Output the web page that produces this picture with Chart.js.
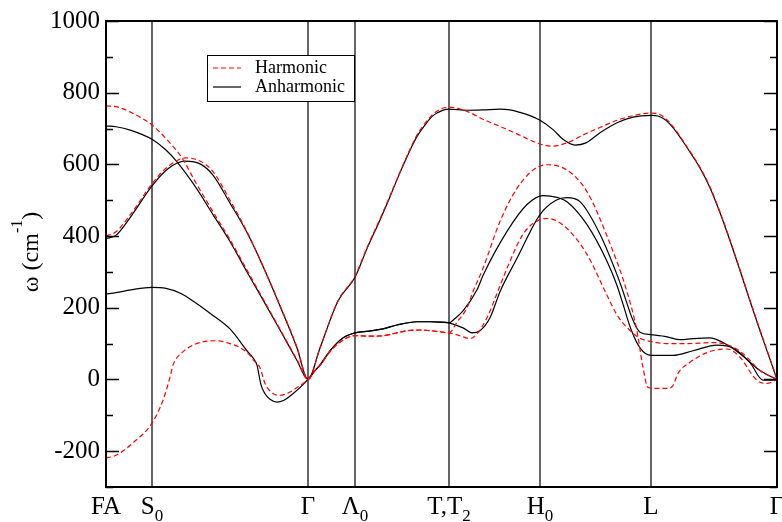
<!DOCTYPE html>
<html>
<head>
<meta charset="utf-8">
<script src="https://cdn.jsdelivr.net/npm/chart.js@4.4.1/dist/chart.umd.min.js"></script>
<style>
  html, body { margin: 0; padding: 0; background: #fff; }
  #wrap { width: 782px; height: 522px; }
</style>
</head>
<body>
<div id="wrap"><canvas id="chart1"></canvas></div>
<script>
// path coordinate of the high-symmetry points and their labels (_ = subscript)
const kPos = [0, 46, 202, 249, 343, 434, 545, 671];
const kLabels = ['FA', 'S_0', 'Γ', 'Λ_0', 'T,T_2', 'H_0', 'L', 'Γ'];
const yTicks = [-200, 0, 200, 400, 600, 800, 1000];
const yMinor = [-300, -100, 100, 300, 500, 700, 900];

// harmonic bands
const harm1 = [[0,763],[10,761],[25,745],[46,710],[60,672],[76,618],[90,548],[107,468],[124,390],[141,305],[157,225],[175,135],[191,55],[202,0],
  [214,88],[232,219],[249,288],[261,368],[274,448],[284,512],[294,579],[305,648],[311,682],[320,718],[327,740],[336,756],[343,760],
  [361,748],[377,726],[394,706],[411,685],[434,657],[446,651],[461,660],[477,682],[494,703],[511,723],[527,736],[545,743],
  [552,741],[560,727],[568,702],[576,670],[585,632],[594,592],[604,537],[614,467],[624,389],[634,306],[644,221],[654,138],[664,58],[671,0]];
const harmLowMid = [[208,22],[214,40],[224,78],[237,110],[249,122],[264,121],[277,122],[289,129],[301,136],[314,138],[324,136],[334,133],[343,130]];
const harm2 = [[0,400],[10,412],[25,462],[46,546],[62,594],[80,618],[95,608],[107,580],[124,500],[141,412],[156,322],[175,200],[191,90],[202,0]]
  .concat(harmLowMid, [[351,160],[361,200],[367,245],[377,310],[394,441],[411,533],[427,584],[441,599],[461,584],[481,524],[501,400],[521,245],
  [531,135],[537,33],[542,-22],[551,-25],[561,-25],[567,-17],[572,17],[584,48],[601,75],[614,84],[621,85],[634,62],[647,10],[654,-8],[661,-11],[671,0]]);
const harm3 = [[0,-218],[7,-215],[14,-205],[27,-177],[46,-122],[57,-58],[64,6],[67,40],[76,75],[94,103],[111,108],[124,100],[134,89],[144,67],
  [147,55],[154,33],[159,-11],[167,-39],[174,-44],[181,-39],[195,-15],[202,0]]
  .concat(harmLowMid, [[354,122],[364,114],[371,127],[381,172],[392,247],[401,310],[417,405],[434,446],[442,449],[461,421],[481,349],
  [501,235],[511,180],[521,145],[534,115],[545,106],[561,100],[581,100],[607,103],[624,94],[637,72],[654,25],[671,0]]);

// anharmonic bands
const anh1 = [[0,707],[10,705],[25,695],[46,670],[60,640],[71,607],[90,535],[107,460],[124,385],[141,300],[157,222],[175,133],[191,53],[202,0],
  [214,88],[232,219],[249,285],[261,365],[274,445],[284,510],[294,577],[305,645],[311,678],[320,714],[327,736],[336,750],[343,754],
  [361,751],[377,752],[394,754],[404,752],[414,745],[424,736],[434,723],[447,697],[457,670],[469,654],[480,660],[494,688],[511,716],[527,732],[545,737],
  [552,735],[560,723],[568,699],[576,668],[585,630],[594,590],[604,535],[614,465],[624,387],[634,304],[644,219],[654,136],[664,56],[671,0]];
const anhLowMid = [[208,22],[214,40],[224,80],[237,116],[249,130],[263,135],[277,141],[291,152],[311,161],[324,161],[334,160],[343,158]];
const anh2 = [[0,393],[10,402],[25,455],[46,540],[62,588],[79,609],[95,600],[107,570],[124,492],[141,410],[156,322],[175,198],[191,88],[202,0]]
  .concat(anhLowMid, [[349,170],[357,191],[371,250],[377,290],[401,413],[421,488],[437,513],[451,508],[461,496],[481,432],[501,330],[511,262],
  [517,210],[525,140],[534,88],[545,67],[567,67],[587,80],[611,96],[627,88],[644,47],[657,-2],[671,-2]]);
const anh3 = [[0,238],[10,242],[25,250],[46,257],[60,254],[75,240],[87,219],[104,185],[124,141],[141,80],[147,60],[151,40],[153,12],[155,-15],
  [159,-40],[164,-55],[171,-63],[178,-58],[186,-42],[195,-20],[202,0]]
  .concat(anhLowMid, [[357,144],[366,130],[374,136],[384,172],[394,245],[411,338],[434,460],[450,500],[461,507],[474,496],[494,405],[514,270],
  [527,165],[534,132],[545,125],[561,119],[574,111],[587,114],[604,116],[617,103],[634,72],[654,25],[671,0]]);

const toXY = arr => arr.map(p => ({ x: p[0], y: p[1] }));

const datasets = [];
[harm1, harm2, harm3].forEach(b => datasets.push({
  label: 'Harmonic', data: toXY(b), borderColor: '#ff0000', borderWidth: 1.2,
  borderDash: [5, 3], pointRadius: 0, cubicInterpolationMode: 'monotone'
}));
[anh1, anh2, anh3].forEach(b => datasets.push({
  label: 'Anharmonic', data: toXY(b), borderColor: '#000', borderWidth: 1.2,
  pointRadius: 0, cubicInterpolationMode: 'monotone'
}));
kPos.slice(1, -1).forEach(k => datasets.push({
  label: 'k', data: [{ x: k, y: -300 }, { x: k, y: 1000 }], borderColor: '#000',
  borderWidth: 1.2, pointRadius: 0
}));

const serif = '"Liberation Serif", "DejaVu Serif", serif';

const decor = {
  id: 'decor',
  afterDatasetsDraw(chart) {
    const { ctx, chartArea: a, scales: { x, y } } = chart;
    ctx.save();
    ctx.strokeStyle = '#000';
    ctx.fillStyle = '#000';

    // legend box
    const lx = a.left + 101, ly = a.top + 34, lw = 147, lh = 46;
    ctx.fillStyle = '#fff';
    ctx.fillRect(lx, ly, lw, lh);
    ctx.lineWidth = 1;
    ctx.strokeRect(lx + 0.5, ly + 0.5, lw, lh);
    ctx.font = '18px ' + serif;
    ctx.textBaseline = 'middle';
    ctx.textAlign = 'left';
    ctx.fillStyle = '#000';
    ctx.lineWidth = 1.2;
    ctx.strokeStyle = '#ff0000';
    ctx.setLineDash([5, 3]);
    ctx.beginPath(); ctx.moveTo(lx + 6, ly + 13); ctx.lineTo(lx + 34, ly + 13); ctx.stroke();
    ctx.setLineDash([]);
    ctx.strokeStyle = '#000';
    ctx.beginPath(); ctx.moveTo(lx + 6, ly + 32); ctx.lineTo(lx + 34, ly + 32); ctx.stroke();
    ctx.fillText('Harmonic', lx + 48, ly + 13);
    ctx.fillText('Anharmonic', lx + 48, ly + 32);

    // frame
    ctx.lineWidth = 2;
    ctx.strokeRect(a.left, a.top, a.right - a.left, a.bottom - a.top);

    // inward ticks, both sides
    ctx.lineWidth = 1.5;
    const tick = (v, len) => {
      const py = Math.round(y.getPixelForValue(v)) + 0.5;
      ctx.beginPath();
      ctx.moveTo(a.left, py); ctx.lineTo(a.left + len, py);
      ctx.moveTo(a.right, py); ctx.lineTo(a.right - len, py);
      ctx.stroke();
    };
    yTicks.forEach(v => tick(v, 13));
    yMinor.forEach(v => tick(v, 7));

    // k-point labels with subscripts
    ctx.textBaseline = 'alphabetic';
    kLabels.forEach((lab, i) => {
      const [main, sub] = lab.split('_');
      ctx.font = '25px ' + serif;
      const wm = ctx.measureText(main).width;
      ctx.font = '17px ' + serif;
      const ws = sub ? ctx.measureText(sub).width : 0;
      const left = x.getPixelForValue(kPos[i]) - (wm + ws) / 2;
      ctx.font = '25px ' + serif;
      ctx.fillText(main, left, 514);
      if (sub) {
        ctx.font = '17px ' + serif;
        ctx.fillText(sub, left + wm, 521);
      }
    });

    // y axis title
    ctx.translate(38, 252);
    ctx.rotate(-Math.PI / 2);
    ctx.font = '24px ' + serif;
    const t1 = 'ω (cm', t3 = ')';
    const w1 = ctx.measureText(t1).width, w3 = ctx.measureText(t3).width;
    ctx.font = '16px ' + serif;
    const w2 = ctx.measureText('-1').width;
    let sx = -(w1 + w2 + w3) / 2;
    ctx.font = '24px ' + serif;
    ctx.fillText(t1, sx, 0);
    ctx.font = '16px ' + serif;
    ctx.fillText('-1', sx + w1, -16);
    ctx.font = '24px ' + serif;
    ctx.fillText(t3, sx + w1 + w2, 0);
    ctx.restore();
  }
};

new Chart(document.getElementById('chart1'), {
  type: 'line',
  data: { datasets: datasets },
  options: {
    responsive: true,
    maintainAspectRatio: false,
    animation: false,
    layout: { padding: { top: 18, right: 5, bottom: 35, left: 0 } },
    plugins: { legend: { display: false }, tooltip: { enabled: false } },
    scales: {
      x: { type: 'linear', min: 0, max: 671, display: false },
      y: {
        min: -300, max: 1000,
        afterBuildTicks: s => { s.ticks = yTicks.map(v => ({ value: v })); },
        afterFit: s => { s.width = 106; },
        grid: { display: false, drawTicks: false },
        border: { display: false },
        ticks: { color: '#000', padding: 6, font: { size: 25, family: serif }, callback: v => String(v) }
      }
    }
  },
  plugins: [decor]
});
</script>
</body>
</html>
